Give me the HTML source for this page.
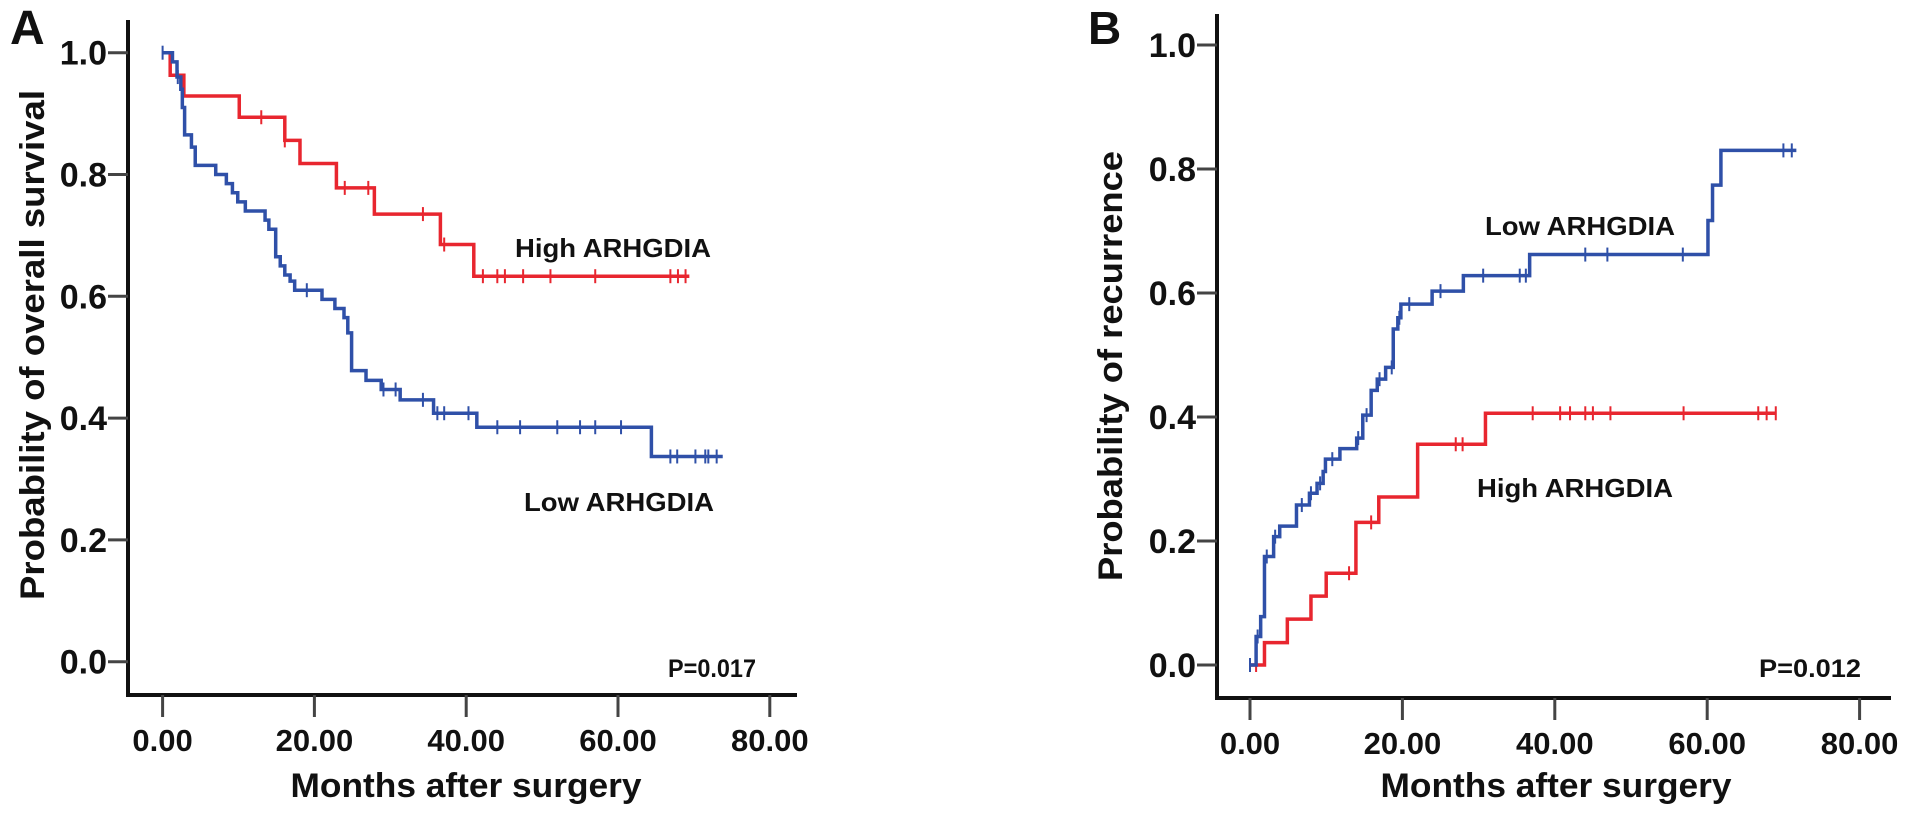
<!DOCTYPE html>
<html><head><meta charset="utf-8">
<style>
html,body{margin:0;padding:0;background:#fff;}
svg{display:block;}
text{font-family:"Liberation Sans",Arial,sans-serif;font-weight:bold;fill:#111;}
</style></head>
<body>
<svg id="chart" width="1913" height="815" viewBox="0 0 1913 815" xmlns="http://www.w3.org/2000/svg">
  <g id="panelA"></g>
  <g id="panelB"></g>
  <g>
  <text x="10" y="44" font-size="48">A</text>
  <text x="1088" y="44" font-size="46">B</text>
  <text transform="translate(44,345) rotate(-90)" text-anchor="middle" font-size="34" textLength="510" lengthAdjust="spacingAndGlyphs">Probability of overall survival</text>
  <text transform="translate(1122,366) rotate(-90)" text-anchor="middle" font-size="34" textLength="430" lengthAdjust="spacingAndGlyphs">Probability of recurrence</text>
  <text x="466" y="797" text-anchor="middle" font-size="34" textLength="351" lengthAdjust="spacingAndGlyphs">Months after surgery</text>
  <text x="1556" y="797" text-anchor="middle" font-size="34" textLength="351" lengthAdjust="spacingAndGlyphs">Months after surgery</text>
  <text x="515" y="257" font-size="26" textLength="196" lengthAdjust="spacingAndGlyphs">High ARHGDIA</text>
  <text x="524" y="511" font-size="26" textLength="190" lengthAdjust="spacingAndGlyphs">Low ARHGDIA</text>
  <text x="1485" y="235" font-size="26" textLength="190" lengthAdjust="spacingAndGlyphs">Low ARHGDIA</text>
  <text x="1477" y="497" font-size="26" textLength="196" lengthAdjust="spacingAndGlyphs">High ARHGDIA</text>
  <text x="668" y="677" font-size="25" textLength="88" lengthAdjust="spacingAndGlyphs">P=0.017</text>
  <text x="1759" y="677" font-size="25" textLength="102" lengthAdjust="spacingAndGlyphs">P=0.012</text>
  </g>
</svg>
<script>
// ---- Panel A data (overall survival) ----
const aXTicks = [0, 20, 40, 60, 80];
const aXTickLabels = ["0.00", "20.00", "40.00", "60.00", "80.00"];
const aYTicks = [0, 0.2, 0.4, 0.6, 0.8, 1.0];
const aYTickLabels = ["0.0", "0.2", "0.4", "0.6", "0.8", "1.0"];
const aHighTimes = [1.0, 2.8, 10.1, 16.1, 18.1, 22.9, 27.9, 36.6, 41.0];
const aHighValues = [0.963, 0.929, 0.894, 0.856, 0.818, 0.778, 0.735, 0.685, 0.633];
const aHighCensor = [13.0, 16.1, 24.0, 27.1, 34.3, 37.1, 42.2, 44.1, 45.1, 47.5, 51.1, 57.0, 66.9, 67.9, 68.9];
const aHighEnd = 69.4;
const aLowTimes = [1.3, 1.9, 2.4, 2.6, 2.9, 3.8, 4.3, 7.0, 8.4, 9.2, 9.9, 10.9, 13.5, 14.0, 14.9, 15.5, 16.1, 16.8, 17.4, 21.0, 22.7, 23.9, 24.4, 24.9, 26.8, 28.8, 31.3, 35.7, 41.4, 64.4];
const aLowValues = [0.985, 0.96, 0.94, 0.91, 0.865, 0.845, 0.815, 0.80, 0.785, 0.77, 0.755, 0.74, 0.725, 0.71, 0.665, 0.65, 0.635, 0.625, 0.61, 0.595, 0.58, 0.565, 0.54, 0.478, 0.462, 0.447, 0.43, 0.408, 0.385, 0.337];
const aLowCensor = [0, 2.0, 19.0, 29.1, 30.7, 34.3, 36.2, 37.1, 40.3, 44.1, 47.1, 52.0, 55.0, 57.0, 60.4, 66.9, 67.8, 70.2, 71.5, 71.9, 73.0];
const aLowEnd = 73.8;

// ---- Panel B data (recurrence) ----
const bXTicks = [0, 20, 40, 60, 80];
const bXTickLabels = ["0.00", "20.00", "40.00", "60.00", "80.00"];
const bYTicks = [0, 0.2, 0.4, 0.6, 0.8, 1.0];
const bYTickLabels = ["0.0", "0.2", "0.4", "0.6", "0.8", "1.0"];
const bLowTimes = [0.8, 1.4, 1.9, 3.1, 3.9, 6.1, 7.8, 8.8, 9.6, 9.9, 11.8, 14.0, 14.8, 15.9, 16.7, 17.8, 18.8, 19.4, 19.8, 23.9, 28.0, 36.7, 60.1, 60.7, 61.8];
const bLowValues = [0.046, 0.078, 0.175, 0.207, 0.224, 0.258, 0.277, 0.293, 0.312, 0.332, 0.349, 0.366, 0.403, 0.443, 0.461, 0.48, 0.542, 0.56, 0.582, 0.603, 0.628, 0.662, 0.717, 0.774, 0.830];
const bLowCensor = [0, 1.0, 2.2, 3.3, 6.8, 8.0, 9.2, 10.8, 14.2, 15.3, 17.0, 18.6, 19.6, 20.9, 25.0, 30.6, 35.4, 36.2, 44.0, 46.9, 56.8, 70.0, 71.1];
const bLowEnd = 71.7;
const bHighTimes = [1.9, 4.9, 8.0, 10.0, 13.9, 16.9, 22.0, 30.9];
const bHighValues = [0.036, 0.074, 0.111, 0.148, 0.230, 0.271, 0.356, 0.406];
const bHighCensor = [0.8, 13.0, 15.9, 27.0, 27.9, 37.1, 40.7, 42.0, 44.0, 45.0, 47.3, 56.9, 66.7, 67.8, 69.0];
const bHighEnd = 69.1;

const NS = "http://www.w3.org/2000/svg";
const RED = "#e8262f", BLUE = "#2f50a8";

function mk(parent, tag, attrs, text) {
  const el = document.createElementNS(NS, tag);
  for (const k in attrs) el.setAttribute(k, attrs[k]);
  if (text !== undefined) el.textContent = text;
  parent.appendChild(el);
  return el;
}
function stepValue(times, values, start, t) {
  let v = start;
  for (let i = 0; i < times.length; i++) { if (times[i] <= t) v = values[i]; }
  return v;
}
function drawSeries(g, xs, ys, times, values, start, censor, end, color, name) {
  let d = "M" + xs(0) + "," + ys(start);
  for (let i = 0; i < times.length; i++) {
    d += " H" + xs(times[i]) + " V" + ys(values[i]);
  }
  d += " H" + xs(end);
  const p = mk(g, "path", {d: d, fill: "none", stroke: color, "stroke-width": 3.5});
  
  
  censor.forEach(function (t) {
    const v = stepValue(times, values, start, t);
    const c = mk(g, "line", {x1: xs(t), x2: xs(t), y1: ys(v) - 7, y2: ys(v) + 7, stroke: color, "stroke-width": 2});
    
    
  });
}
function drawAxes(g, cfg) {
  const xs = t => cfg.x0 + cfg.xk * t;
  const ys = v => cfg.y0 - cfg.yk * v;
  const ya = mk(g, "line", {x1: cfg.axX, x2: cfg.axX, y1: cfg.axTop, y2: cfg.axY + 1.5, stroke: "#111", "stroke-width": 4});
  
  
  const xa = mk(g, "line", {x1: cfg.axX - 2, x2: cfg.axRight, y1: cfg.axY, y2: cfg.axY, stroke: "#111", "stroke-width": 4});
  
  
  cfg.yTicks.forEach(function (v, i) {
    const tk = mk(g, "line", {x1: cfg.axX - 20, x2: cfg.axX, y1: ys(v), y2: ys(v), stroke: "#444", "stroke-width": 3});
    
    
    const lb = mk(g, "text", {x: cfg.axX - 21, y: ys(v) + 12, "text-anchor": "end", "font-size": 34}, cfg.yLabels[i]);
    
    
  });
  cfg.xTicks.forEach(function (t, i) {
    const tk = mk(g, "line", {x1: xs(t), x2: xs(t), y1: cfg.axY, y2: cfg.axY + 22, stroke: "#444", "stroke-width": 3});
    
    
    const lb = mk(g, "text", {x: xs(t), y: cfg.axY + 56, "text-anchor": "middle", "font-size": 31}, cfg.xLabels[i]);
    
    
  });
  return {xs: xs, ys: ys};
}

// ---- Panel A ----
const gA = document.getElementById("panelA");
const sA = drawAxes(gA, {x0: 162.6, xk: 7.59, y0: 661.7, yk: 609, axX: 128, axY: 695, axTop: 20, axRight: 797,
  xTicks: aXTicks, xLabels: aXTickLabels, yTicks: aYTicks, yLabels: aYTickLabels});
drawSeries(gA, sA.xs, sA.ys, aHighTimes, aHighValues, 1, aHighCensor, aHighEnd, RED, 'high-arhgdia-a');
drawSeries(gA, sA.xs, sA.ys, aLowTimes, aLowValues, 1, aLowCensor, aLowEnd, BLUE, 'low-arhgdia-a');

// ---- Panel B ----
const gB = document.getElementById("panelB");
const sB = drawAxes(gB, {x0: 1250, xk: 7.62, y0: 665, yk: 620, axX: 1217, axY: 698, axTop: 14, axRight: 1891,
  xTicks: bXTicks, xLabels: bXTickLabels, yTicks: bYTicks, yLabels: bYTickLabels});
drawSeries(gB, sB.xs, sB.ys, bHighTimes, bHighValues, 0, bHighCensor, bHighEnd, RED, 'high-arhgdia-b');
drawSeries(gB, sB.xs, sB.ys, bLowTimes, bLowValues, 0, bLowCensor, bLowEnd, BLUE, 'low-arhgdia-b');
</script>
</body></html>
